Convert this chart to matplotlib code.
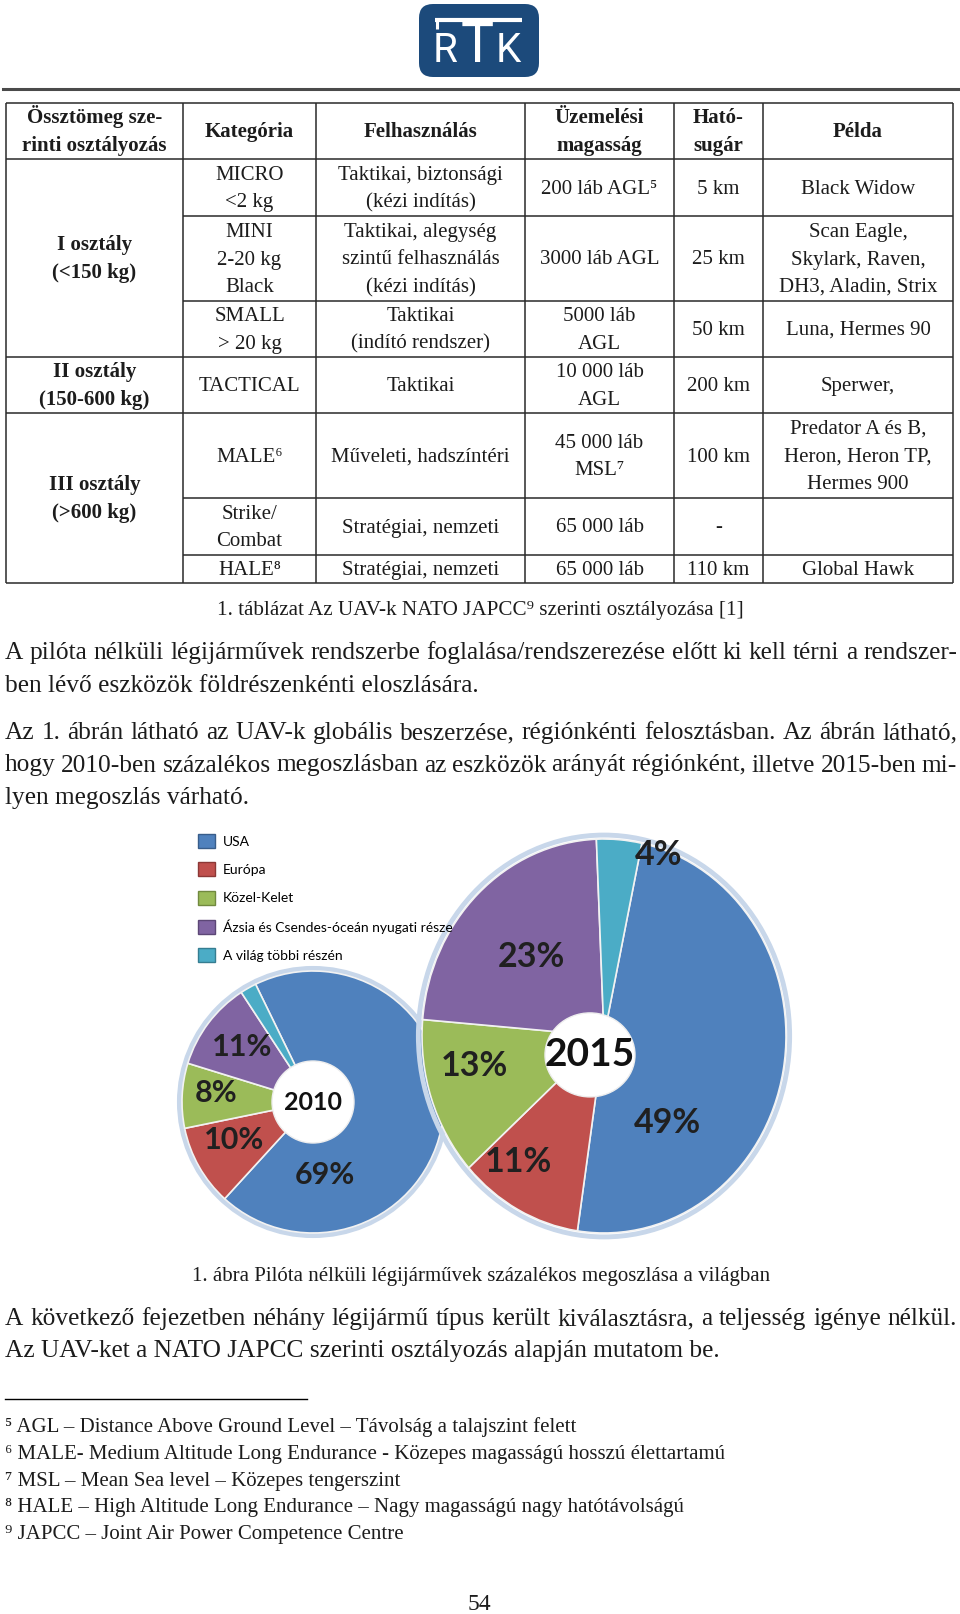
import matplotlib
matplotlib.use('Agg')
import matplotlib.pyplot as plt
from matplotlib.patches import Ellipse, FancyBboxPatch, Patch

W, H = 960, 1614
SERIF = ['Liberation Serif', 'DejaVu Serif']
SANS = ['Lato', 'DejaVu Sans']
INK = '#1c1c1c'

# ---- table content ----
headers = ['Össztömeg sze-\nrinti osztályozás', 'Kategória', 'Felhasználás',
           'Üzemelési\nmagasság', 'Ható-\nsugár', 'Példa']
classes = ['I osztály\n(<150 kg)', 'II osztály\n(150-600 kg)', 'III osztály\n(>600 kg)']
class_rows = [(0, 3), (3, 4), (4, 7)]
kategoria = ['MICRO\n<2 kg', 'MINI\n2-20 kg\nBlack', 'SMALL\n> 20 kg', 'TACTICAL',
             'MALE⁶', 'Strike/\nCombat', 'HALE⁸']
felhasznalas = ['Taktikai, biztonsági\n(kézi indítás)',
                'Taktikai, alegység\nszintű felhasználás\n(kézi indítás)',
                'Taktikai\n(indító rendszer)', 'Taktikai', 'Műveleti, hadszíntéri',
                'Stratégiai, nemzeti', 'Stratégiai, nemzeti']
magassag = ['200 láb AGL⁵', '3000 láb AGL', '5000 láb\nAGL', '10 000 láb\nAGL',
            '45 000 láb\nMSL⁷', '65 000 láb', '65 000 láb']
hatosugar = ['5 km', '25 km', '50 km', '200 km', '100 km', '-', '110 km']
pelda = ['Black Widow', 'Scan Eagle,\nSkylark, Raven,\nDH3, Aladin, Strix',
         'Luna, Hermes 90', 'Sperwer,', 'Predator A és B,\nHeron, Heron TP,\nHermes 900',
         '', 'Global Hawk']

# ---- pie data ----
regions = ['USA', 'Európa', 'Közel-Kelet', 'Ázsia és Csendes-óceán nyugati része',
           'A világ többi részén']
colors = ['#4F81BD', '#C0504D', '#9BBB59', '#8064A2', '#4BACC6']
edges = ['#385D8A', '#8C3836', '#71893F', '#5C4776', '#357D91']
share_2010 = [69, 10, 8, 11, 2]
share_2015 = [49, 11, 13, 23, 4]

# ---- text ----
table_caption = '1. táblázat Az UAV-k NATO JAPCC⁹ szerinti osztályozása [1]'
fig_caption = '1. ábra Pilóta nélküli légijárművek százalékos megoszlása a világban'
para1 = ['A pilóta nélküli légijárművek rendszerbe foglalása/rendszerezése előtt ki kell térni a rendszer-',
         'ben lévő eszközök földrészenkénti eloszlására.']
para2 = ['Az 1. ábrán látható az UAV-k globális beszerzése, régiónkénti felosztásban. Az ábrán látható,',
         'hogy 2010-ben százalékos megoszlásban az eszközök arányát régiónként, illetve 2015-ben mi-',
         'lyen megoszlás várható.']
para3 = ['A következő fejezetben néhány légijármű típus került kiválasztásra, a teljesség igénye nélkül.',
         'Az UAV-ket a NATO JAPCC szerinti osztályozás alapján mutatom be.']
footnotes = ['⁵ AGL – Distance Above Ground Level – Távolság a talajszint felett',
             '⁶ MALE- Medium Altitude Long Endurance - Közepes magasságú hosszú élettartamú',
             '⁷ MSL – Mean Sea level – Közepes tengerszint',
             '⁸ HALE – High Altitude Long Endurance – Nagy magasságú nagy hatótávolságú',
             '⁹ JAPCC – Joint Air Power Competence Centre']

fig = plt.figure(figsize=(W / 100, H / 100), dpi=100)


def pie_axes(cx, cy, rx, ry):
    ax = fig.add_axes([(cx - rx) / W, 1 - (cy + ry) / H, 2 * rx / W, 2 * ry / H])
    return ax


def draw_pie(ax, values, start, hole, labels, lab_size, centre, centre_size):
    ax.pie(values, colors=colors, startangle=start, counterclock=False,
           wedgeprops=dict(edgecolor='#f2f2f2', linewidth=1.2))
    ax.set_aspect('auto')
    ax.set_xlim(-1, 1)
    ax.set_ylim(-1, 1)
    ax.add_patch(Ellipse((0, 0), 2.04, 2.04, fc='none', ec='#c8d7ea', lw=3.5,
                         zorder=0, clip_on=False))
    hx, hy, hw, hh = hole
    ax.add_patch(Ellipse((hx, hy), hw, hh, fc='white', ec='#eeeeee', lw=1, zorder=3))
    for (x, y), v in labels:
        ax.text(x, y, f'{v}%', ha='center', va='center', fontsize=lab_size,
                fontweight='bold', family=SANS, color='#202020', zorder=4,
                clip_on=False)
    ax.text(hx, hy, centre, ha='center', va='center', fontsize=centre_size,
            fontweight='bold', family=SANS, color='#111111', zorder=4)


# 2010 pie
a1 = pie_axes(313, 1102, 131, 131)
draw_pie(a1, share_2010, 116, (0.0, 0.0, 82 / 131, 82 / 131),
         [((0.09, -0.56), share_2010[0]), ((-0.60, -0.29), share_2010[1]),
          ((-0.74, 0.07), share_2010[2]), ((-0.54, 0.42), share_2010[3])],
         22, '2010', 18)

# 2015 pie
a2 = pie_axes(604, 1036, 182, 197)
draw_pie(a2, share_2015, 78, (-0.077, -0.096, 90 / 182, 84 / 197),
         [((0.35, -0.44), share_2015[0]), ((-0.47, -0.64), share_2015[1]),
          ((-0.71, -0.15), share_2015[2]), ((-0.40, 0.40), share_2015[3]),
          ((0.30, 0.92), share_2015[4])],
         24.5, '2015', 28)

# page layer in pixel coordinates
pg = fig.add_axes([0, 0, 1, 1])
pg.set_xlim(0, W)
pg.set_ylim(H, 0)
pg.axis('off')

# logo
pg.add_patch(FancyBboxPatch((419, 4), 120, 73, boxstyle='round,pad=0,rounding_size=14',
                            fc='#1c4a7b', ec='none'))
pg.plot([435, 522], [20, 20], color='white', lw=3, solid_capstyle='butt')
pg.plot([436.5, 436.5], [19, 29], color='white', lw=2.2, solid_capstyle='butt')
logo_font = dict(color='white', ha='center', va='baseline', family=['Roboto', 'DejaVu Sans'])
pg.text(445, 62, 'R', fontsize=29, **logo_font)
pg.text(477, 62, 'T', fontsize=40, **logo_font)
pg.text(508, 62, 'K', fontsize=29, **logo_font)
pg.plot([3, 960], [88.5, 88.5], color='#4a4a4a', lw=2.2)

# table
col_x = [6, 183, 316, 525, 674, 763, 953]
row_y = [103, 159, 216, 301, 357, 413, 498, 555, 583]


def cell(x0, x1, y0, y1, s, bold=False, size=15, pitch=27.5):
    lines = s.split('\n')
    cx, cy = (x0 + x1) / 2, (y0 + y1) / 2
    n = len(lines)
    for i, ln in enumerate(lines):
        pg.text(cx, cy + (i - (n - 1) / 2) * pitch + 6, ln, ha='center', va='baseline',
                fontsize=size, family=SERIF, fontweight='bold' if bold else 'normal',
                color=INK)


lc = '#2a2a2a'
pg.vlines(col_x, row_y[0], row_y[-1], color=lc, lw=1.1)
pg.hlines([row_y[0], row_y[1], row_y[-1]], col_x[0], col_x[-1], color=lc, lw=1.1)
starts = [r0 for r0, _ in class_rows]
for r in range(1, 7):
    x_start = col_x[0] if r in starts else col_x[1]
    pg.hlines(row_y[r + 1], x_start, col_x[-1], color=lc, lw=1.1)

for j, h in enumerate(headers):
    cell(col_x[j], col_x[j + 1], row_y[0], row_y[1], h, bold=True)
for name, (r0, r1) in zip(classes, class_rows):
    cell(col_x[0], col_x[1], row_y[r0 + 1], row_y[r1 + 1], name, bold=True)
for j, col in enumerate([kategoria, felhasznalas, magassag, hatosugar, pelda], start=1):
    for r, s in enumerate(col):
        cell(col_x[j], col_x[j + 1], row_y[r + 1], row_y[r + 2], s)

pg.text(480, 615, table_caption, ha='center', va='baseline', fontsize=15.2,
        family=SERIF, color=INK)

# body text
renderer = fig.canvas.get_renderer()
BODY = 18.3


def body_line(y, s, justify, x0=5, x1=957):
    if not justify:
        pg.text(x0, y, s, ha='left', va='baseline', fontsize=BODY, family=SERIF, color=INK)
        return
    words = s.split(' ')
    ts = [pg.text(x0, y, w, ha='left', va='baseline', fontsize=BODY, family=SERIF,
                  color=INK) for w in words]
    ws = [t.get_window_extent(renderer).width for t in ts]
    gap = (x1 - x0 - sum(ws)) / (len(words) - 1)
    x = x0
    for t, w in zip(ts, ws):
        t.set_x(x)
        x += w + gap


for lines, y0 in [(para1, 659), (para2, 739), (para3, 1325)]:
    for i, ln in enumerate(lines):
        body_line(y0 + i * 32.5, ln, i < len(lines) - 1)

# legend
handles = [Patch(facecolor=c, edgecolor=e, lw=1) for c, e in zip(colors, edges)]
pg.legend(handles, regions, loc='upper left', bbox_to_anchor=(198, 834),
          bbox_transform=pg.transData, frameon=False, borderpad=0, borderaxespad=0,
          handlelength=1.22, handleheight=1.15, handletextpad=0.55, labelspacing=1.05,
          prop=dict(family=SANS, size=10))

pg.text(481, 1281, fig_caption, ha='center', va='baseline', fontsize=15,
        family=SERIF, color=INK)

# footnotes
pg.plot([5, 307], [1399, 1399], color='black', lw=1)
for i, fn in enumerate(footnotes):
    pg.text(5, 1432 + i * 26.8, fn, ha='left', va='baseline', fontsize=15,
            family=SERIF, color=INK)

pg.text(479, 1610, '54', ha='center', va='baseline', fontsize=17, family=SERIF, color=INK)

fig.savefig('out.png', dpi=100, facecolor='white')
